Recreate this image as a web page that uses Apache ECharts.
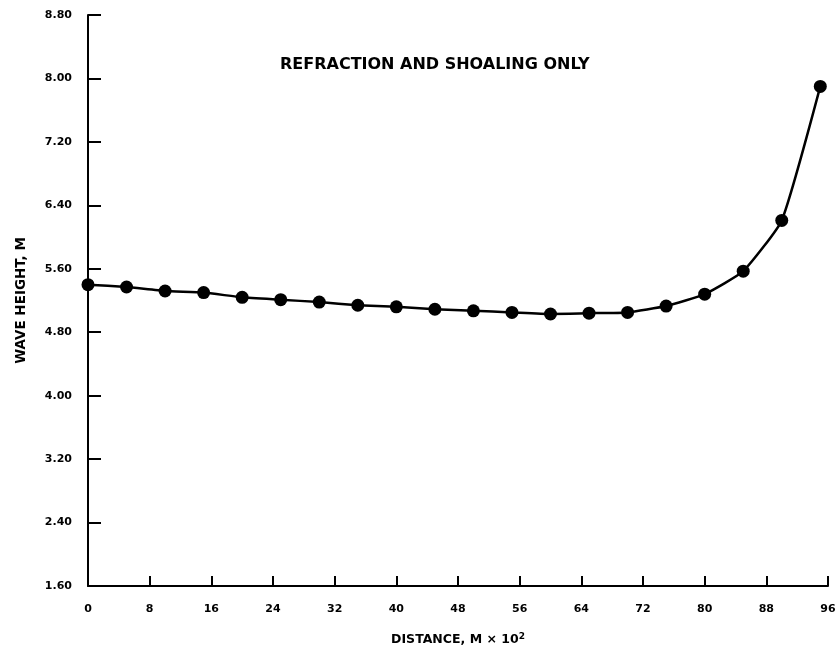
<!DOCTYPE html>
<html>
<head>
<meta charset="utf-8">
<script src="https://cdn.jsdelivr.net/npm/echarts@6/dist/echarts.min.js"></script>
<style>
  html, body { margin: 0; padding: 0; background: #fff; }
  #chart { width: 839px; height: 653px; }
</style>
</head>
<body>
<div id="chart"></div>
<script>
// Distance along the transect (hundreds of metres) and computed wave height (m)
const distance = [0, 5, 10, 15, 20, 25, 30, 35, 40, 45, 50, 55, 60, 65, 70, 75, 80, 85, 90, 95];
const waveHeight = [5.40, 5.37, 5.32, 5.30, 5.24, 5.21, 5.18, 5.14, 5.12, 5.09,
                    5.07, 5.05, 5.03, 5.04, 5.05, 5.13, 5.28, 5.57, 6.21, 7.90];

const chartTitle = 'REFRACTION AND SHOALING ONLY';
const xAxisName = 'DISTANCE, M \u00d7 10{sup|2}';
const yAxisName = 'WAVE HEIGHT, M';

const font = '"DejaVu Sans", Verdana, sans-serif';
const chart = echarts.init(document.getElementById('chart'));

chart.setOption({
  backgroundColor: '#ffffff',
  animation: false,
  title: {
    text: chartTitle,
    left: 280,
    top: 57,
    padding: 0,
    textStyle: { fontFamily: font, fontWeight: 'bold', fontSize: 16, color: '#000' }
  },
  grid: { left: 88, right: 11, top: 15, bottom: 67 },
  xAxis: {
    type: 'value',
    min: 0,
    max: 96,
    interval: 8,
    name: xAxisName,
    nameLocation: 'middle',
    nameGap: 46,
    nameTextStyle: {
      fontFamily: font, fontWeight: 'bold', fontSize: 12.5, color: '#000',
      rich: { sup: { fontFamily: font, fontWeight: 'bold', fontSize: 9, color: '#000', verticalAlign: 'top', padding: [0, 0, 6, 0] } }
    },
    axisLine: { lineStyle: { color: '#000', width: 2 } },
    axisTick: { inside: true, length: 10, lineStyle: { color: '#000', width: 2 } },
    axisLabel: { margin: 18, fontFamily: font, fontWeight: 'bold', fontSize: 11, color: '#000' },
    splitLine: { show: false }
  },
  yAxis: {
    type: 'value',
    min: 1.6,
    max: 8.8,
    interval: 0.8,
    name: yAxisName,
    nameLocation: 'middle',
    nameGap: 60,
    nameRotate: 90,
    nameTextStyle: { fontFamily: font, fontWeight: 'bold', fontSize: 13.5, color: '#000' },
    axisLine: { show: true, lineStyle: { color: '#000', width: 2 } },
    axisTick: { show: true, inside: true, length: 13, lineStyle: { color: '#000', width: 2 } },
    axisLabel: {
      margin: 16, fontFamily: font, fontWeight: 'bold', fontSize: 11, color: '#000',
      formatter: v => v.toFixed(2)
    },
    splitLine: { show: false }
  },
  series: [{
    type: 'line',
    data: distance.map((d, i) => [d, waveHeight[i]]),
    smooth: 0.15,
    symbol: 'circle',
    symbolSize: 13,
    itemStyle: { color: '#000' },
    lineStyle: { color: '#000', width: 2.5 }
  }]
});
</script>
</body>
</html>
